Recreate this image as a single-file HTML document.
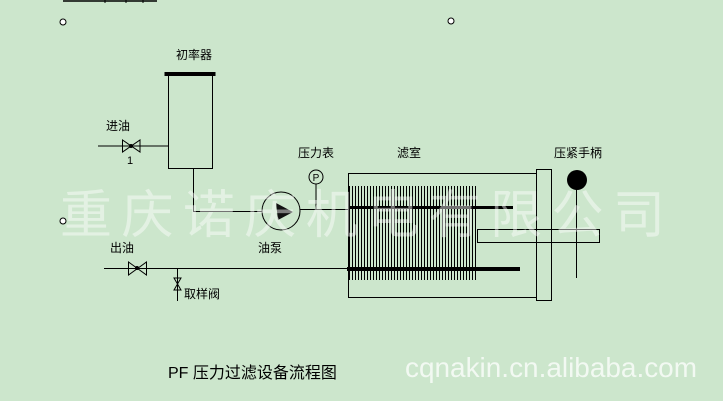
<!DOCTYPE html>
<html><head><meta charset="utf-8"><style>
html,body{margin:0;padding:0;background:#cce6cc;}
svg{display:block;}
text{font-family:"Liberation Sans","WenQuanYi Zen Hei","Noto Sans CJK SC",sans-serif;}
</style></head><body>
<svg width="723" height="401" viewBox="0 0 723 401" xmlns="http://www.w3.org/2000/svg">
<defs>
<pattern id="pl" x="349" y="0" width="3" height="10" patternUnits="userSpaceOnUse">
<rect x="0" y="0" width="1" height="10" fill="#000"/>
</pattern>
</defs>
<rect width="723" height="401" fill="#cce6cc"/>
<line x1="63" y1="1" x2="157" y2="1" stroke="#000" stroke-width="1.5"/>
<line x1="105" y1="0" x2="105" y2="3" stroke="#000"/>
<line x1="126" y1="0" x2="126" y2="3" stroke="#000"/>
<line x1="143" y1="0" x2="143" y2="3" stroke="#000"/>
<g fill="#fff" stroke="#000"><circle cx="63" cy="22" r="3"/><circle cx="63" cy="221" r="3"/><circle cx="451" cy="21" r="3"/></g>
<g font-size="12" fill="#000">
<text x="176" y="59">初率器</text>
<text x="106" y="130">进油</text>
<text x="127" y="164" font-size="11" font-family="Liberation Serif">1</text>
<text x="298" y="157">压力表</text>
<text x="397" y="157">滤室</text>
<text x="554" y="157">压紧手柄</text>
<text x="258" y="252">油泵</text>
<text x="110" y="252">出油</text>
<text x="184" y="298">取样阀</text>
</g>
<g stroke="#000" fill="none" stroke-width="1">
<rect x="165" y="72.5" width="50" height="3" fill="#000"/>
<rect x="168.5" y="75.5" width="44" height="93"/>
<line x1="98" y1="146" x2="168" y2="146"/>
<path d="M122.5 140 L140 152 L140 140 L122.5 152 Z"/>
<circle cx="131" cy="146" r="1.5" fill="#000"/>
<polyline points="193.5,168 193.5,211.5 262,211.5"/>
<circle cx="281" cy="211" r="19"/>
<line x1="300" y1="209.5" x2="348" y2="209.5"/>
<circle cx="316" cy="177" r="7"/>
<line x1="316" y1="184" x2="316" y2="209"/>
<line x1="104" y1="268.5" x2="348" y2="268.5"/>
<path d="M128.5 262 L146.5 275 L146.5 262 L128.5 275 Z"/>
<circle cx="137" cy="268" r="1.5" fill="#000"/>
<line x1="177.5" y1="268" x2="177.5" y2="301"/>
<path d="M174 278 L181 290 L174 290 L181 278 Z"/>
<rect x="348.5" y="173.5" width="188" height="124"/>
<rect x="536.5" y="169.5" width="15" height="131"/>
<rect x="477.5" y="229.5" width="122" height="13"/>
<line x1="576.5" y1="180" x2="576.5" y2="278"/>
</g>
<rect x="349" y="186" width="128" height="94" fill="url(#pl)"/>
<rect x="348" y="206" width="165" height="3" fill="#000"/>
<rect x="347" y="267" width="173" height="4" fill="#000"/>
<circle cx="577" cy="180" r="10" fill="#000"/>
<polygon points="276,203 293,212 278,220" fill="#111"/>
<text x="316" y="181" font-size="10" text-anchor="middle" fill="#000">P</text>
<text x="168" y="378" font-size="16" fill="#000">PF 压力过滤设备流程图</text>
<text x="60" y="233" font-size="52" fill="#fff" fill-opacity="0.45" textLength="605" font-family="'WenQuanYi Zen Hei','Noto Sans CJK SC',sans-serif">重庆诺庆机电有限公司</text>
<text x="405" y="377" font-size="28" fill="#fff" fill-opacity="0.75" textLength="292" lengthAdjust="spacingAndGlyphs" font-family="'DejaVu Sans',sans-serif">cqnakin.cn.alibaba.com</text>
</svg>
</body></html>
